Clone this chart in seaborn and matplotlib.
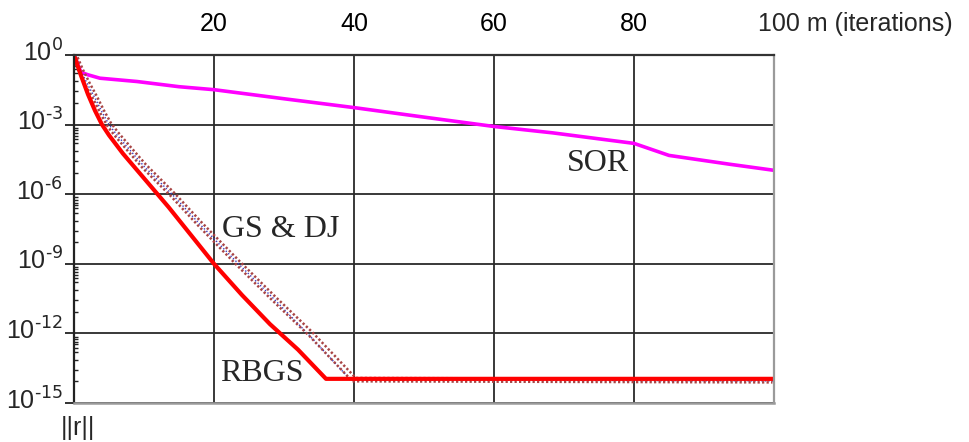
import numpy as np
import pandas as pd
import matplotlib
matplotlib.use("Agg")
import matplotlib.pyplot as plt
import matplotlib.patheffects as pe
from matplotlib.ticker import FixedLocator, NullFormatter, FixedFormatter
import seaborn as sns

# ---------------- data ----------------
# iteration numbers m and residual norms ||r||
sor_m = [0, 1, 2, 3.7, 9, 15, 20, 30, 40, 50, 60, 68.4, 80, 85, 93.7, 100]
sor_r = [1.0, 1.8e-1, 1.4e-1, 1.0e-1, 7.2e-2, 4.3e-2, 3.2e-2, 1.3e-2, 5.4e-3,
         2.1e-3, 8.3e-4, 4.4e-4, 1.55e-4, 4.7e-5, 1.95e-5, 1.07e-5]

gs_m = [0, 1, 2, 3, 4, 5, 6, 8, 10, 14, 18, 23.5, 28.5, 33.7, 40, 100]
gs_r = [1.0, 2.0e-1, 5.0e-2, 1.4e-2, 3.5e-3, 1.0e-3, 4.0e-4, 7.9e-5, 1.6e-5,
        1.0e-6, 5.0e-8, 1.0e-9, 3.2e-11, 1.0e-12, 1.0e-14, 9.0e-15]

dj_m = [0, 1, 2, 3, 4, 5, 6, 8, 10, 14, 18, 23.5, 28.5, 33.5, 39.5, 100]
dj_r = [1.0, 2.0e-1, 5.0e-2, 1.4e-2, 3.5e-3, 1.0e-3, 4.0e-4, 7.9e-5, 1.6e-5,
        1.0e-6, 5.0e-8, 1.0e-9, 3.2e-11, 9.0e-13, 1.0e-14, 9.0e-15]

rbgs_m = [0, 1, 2, 3, 4, 5, 6, 7, 13.5, 20, 24, 28, 32, 36, 100]
rbgs_r = [1.0, 1.3e-1, 2.0e-2, 4.0e-3, 1.0e-3, 3.5e-4, 1.4e-4, 5.6e-5, 2.8e-7,
          1.0e-9, 4.5e-11, 2.5e-12, 2.0e-13, 1.1e-14, 1.1e-14]

x_ticks = [20, 40, 60, 80]
x_ticklabels = ["20", "40", "60", "80"]
x_last_label = "100 m (iterations)"
y_exponents = [0, -3, -6, -9, -12, -15]
y_label = "||r||"
curve_labels = ["SOR", "GS & DJ", "RBGS"]

# ---------------- style ----------------
sns.set_style("white")
plt.rcParams["font.family"] = ["Liberation Sans", "DejaVu Sans"]
plt.rcParams["mathtext.default"] = "regular"

fig = plt.figure(figsize=(9.7, 4.42), dpi=100)
ax = fig.add_axes([74 / 970, 1 - 403 / 442, 700 / 970, 348 / 442])
ax.set_facecolor("white")
ax.set_yscale("log")

sns.lineplot(x=sor_m, y=sor_r, ax=ax, color="#ff00ff", lw=2.6,
             estimator=None, sort=False)
sns.lineplot(x=dj_m, y=dj_r, ax=ax, color="#3a3ac0", lw=1.0,
             linestyle=(0, (1.0, 1.5)), estimator=None, sort=False)
sns.lineplot(x=gs_m, y=gs_r, ax=ax, color="#a84444", lw=1.8,
             linestyle=(0, (0.9, 0.9)), estimator=None, sort=False)
gs_line = ax.lines[-1]
gs_line.set_path_effects([pe.Stroke(offset=(1.3, 1.3)),
                          pe.Stroke(offset=(-1.1, -1.1))])
sns.lineplot(x=rbgs_m, y=rbgs_r, ax=ax, color="#ff0000", lw=3.0,
             estimator=None, sort=False)

ax.set_xlim(0, 100)
ax.set_ylim(1e-15, 1.0)
ax.set_xlabel("")
ax.set_ylabel("")

# x axis on top
ax.xaxis.tick_top()
ax.xaxis.set_major_locator(FixedLocator(x_ticks))
ax.xaxis.set_major_formatter(FixedFormatter(x_ticklabels))
ax.tick_params(axis="x", which="both", length=0, pad=14, labelsize=18,
               labelcolor="black")
ax.annotate(x_last_label, xy=(100, 1), xycoords=("data", "axes fraction"),
            xytext=(-11.5, 14), textcoords="offset points",
            ha="left", va="bottom", fontsize=18)

# y axis
ax.yaxis.set_major_locator(FixedLocator([10.0 ** e for e in y_exponents]))
ax.yaxis.set_major_formatter(NullFormatter())
minor_offsets = [0.14, 0.24, 0.36, 0.47, 0.61, 0.79, 1.14, 1.57, 2.07]
minor_pos = [10.0 ** (e - d) for e in y_exponents[:-1] for d in minor_offsets]
ax.yaxis.set_minor_locator(FixedLocator(minor_pos))
ax.yaxis.set_minor_formatter(NullFormatter())
ax.tick_params(axis="y", which="major", direction="out", length=6.5,
               width=1.3, color="#222222", left=True, labelleft=False)
ax.tick_params(axis="y", which="minor", direction="in", length=2.6,
               width=1.0, color="#222222", left=True)

for e in y_exponents:
    ax.annotate(f"$10^{{\\text{{{e}}}}}$", xy=(0, 10.0 ** e),
                xycoords=("axes fraction", "data"),
                xytext=(-8, -4.5), textcoords="offset points",
                ha="right", va="baseline", fontsize=18)

ax.grid(True, which="major", axis="both", color="#2a2a2a", lw=1.3)

for side, col, lw in [("left", "#222222", 1.6), ("top", "#333333", 1.6),
                      ("bottom", "#9a9a9a", 1.8), ("right", "#9a9a9a", 1.6)]:
    ax.spines[side].set_visible(True)
    ax.spines[side].set_color(col)
    ax.spines[side].set_linewidth(lw)

# curve labels
serif = ["Liberation Serif", "DejaVu Serif"]
ax.text(70.4, 10 ** -5.01, curve_labels[0], family=serif, fontsize=23,
        ha="left", va="baseline")
ax.text(21.1, 10 ** -7.84, curve_labels[1], family=serif, fontsize=23,
        ha="left", va="baseline")
ax.text(20.9, 10 ** -14.06, curve_labels[2], family=serif, fontsize=23,
        ha="left", va="baseline")

fig.text(78 / 970, 1 - 416 / 442, y_label, ha="center", va="top", fontsize=18)

fig.savefig("out.png", dpi=100, facecolor="white")
